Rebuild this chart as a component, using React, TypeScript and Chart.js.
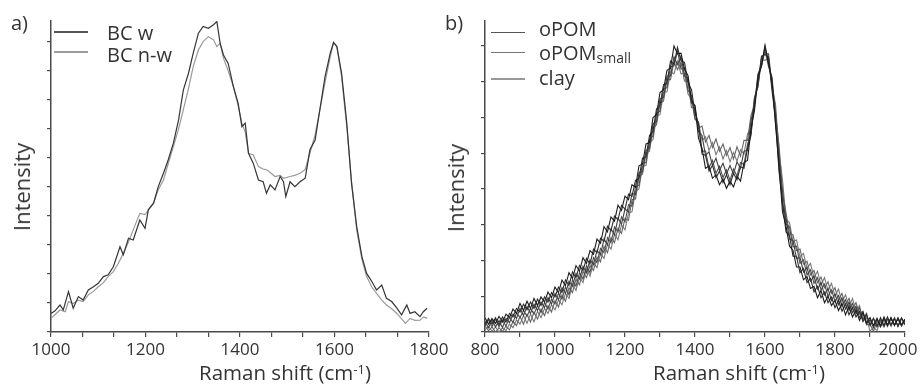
import React, { useEffect, useRef } from "react";
import { Chart, registerables } from "chart.js";

Chart.register(...registerables);

const FONT = "'Open Sans', sans-serif";
const TEXT = "#333333";
const AXIS = "#4a4a4a";

// ---------- Panel a) ----------
const A_X_TICKS = [1000, 1066.67, 1133.33, 1200, 1266.67, 1333.33, 1400, 1466.67, 1533.33, 1600, 1666.67, 1733.33, 1800];
const A_X_LABELS = [1000, 1200, 1400, 1600, 1800];
const A_Y_TICKS = [0, 1, 2, 3, 4, 5, 6, 7, 8, 9, 10];

const BC_W_X = [1000, 1008, 1019, 1026, 1037, 1047, 1058, 1068, 1079, 1090, 1100, 1111, 1121, 1132, 1146, 1153, 1164, 1174, 1188, 1199, 1206, 1217, 1227, 1238, 1248, 1259, 1270, 1280, 1291, 1301, 1312, 1322, 1333, 1344, 1351, 1358, 1365, 1375, 1386, 1396, 1404, 1411, 1418, 1428, 1439, 1449, 1456, 1464, 1474, 1485, 1492, 1497, 1506, 1516, 1527, 1538, 1548, 1559, 1569, 1580, 1591, 1598, 1605, 1615, 1626, 1636, 1647, 1658, 1668, 1679, 1689, 1700, 1710, 1721, 1732, 1742, 1753, 1760, 1770, 1781, 1788, 1796];
const BC_W_Y = [0.64, 0.72, 0.93, 0.76, 1.39, 0.82, 1.22, 1.10, 1.45, 1.56, 1.68, 1.91, 1.97, 2.25, 2.94, 2.66, 3.23, 3.17, 3.86, 3.57, 4.21, 4.44, 5.01, 5.47, 5.93, 6.51, 7.31, 8.34, 8.92, 9.61, 10.30, 10.53, 10.47, 10.59, 10.70, 9.95, 9.55, 9.26, 8.46, 7.89, 7.08, 7.20, 6.16, 5.82, 5.24, 5.18, 4.78, 5.07, 4.90, 5.36, 5.18, 4.67, 5.18, 5.01, 5.18, 5.30, 6.28, 6.62, 7.66, 8.80, 9.61, 9.98, 9.84, 8.92, 7.20, 5.13, 3.63, 2.60, 2.02, 1.74, 1.45, 1.62, 1.16, 1.05, 0.82, 0.59, 0.93, 0.64, 0.70, 0.53, 0.70, 0.82];

const BC_NW_X = [1000, 1010, 1019, 1030, 1037, 1047, 1058, 1068, 1079, 1090, 1100, 1111, 1121, 1132, 1142, 1153, 1164, 1174, 1188, 1199, 1206, 1217, 1227, 1238, 1248, 1259, 1270, 1280, 1291, 1301, 1312, 1322, 1333, 1344, 1351, 1358, 1365, 1375, 1386, 1396, 1404, 1411, 1418, 1428, 1439, 1449, 1456, 1464, 1474, 1485, 1492, 1506, 1516, 1527, 1538, 1548, 1559, 1569, 1580, 1591, 1598, 1605, 1615, 1626, 1636, 1647, 1658, 1668, 1679, 1689, 1700, 1710, 1721, 1732, 1742, 1750, 1760, 1770, 1781, 1789, 1796];
const BC_NW_Y = [0.47, 0.62, 0.76, 0.70, 1.05, 0.98, 1.10, 1.05, 1.28, 1.40, 1.56, 1.70, 1.91, 2.08, 2.35, 2.71, 3.10, 3.52, 4.09, 4.05, 4.21, 4.44, 4.90, 5.24, 5.80, 6.39, 7.00, 7.66, 8.40, 9.15, 9.72, 10.01, 10.18, 10.07, 9.84, 9.95, 9.44, 9.00, 8.46, 7.80, 7.20, 6.90, 6.16, 6.10, 5.70, 5.62, 5.59, 5.50, 5.36, 5.40, 5.30, 5.36, 5.40, 5.47, 5.60, 6.16, 6.80, 7.66, 8.60, 9.49, 9.98, 9.84, 8.80, 7.08, 5.20, 3.52, 2.50, 1.91, 1.55, 1.33, 1.10, 0.93, 0.80, 0.64, 0.45, 0.30, 0.47, 0.40, 0.41, 0.52, 0.47];

// ---------- Panel b) ----------
const B_X_TICKS = [800, 900, 1000, 1100, 1200, 1300, 1400, 1500, 1600, 1700, 1800, 1900, 2000];
const B_X_LABELS = [800, 1000, 1200, 1400, 1600, 1800];
const B_X_LAST_LABEL = "2000";
const B_Y_TICKS = [0, 1, 2, 3, 4, 5, 6, 7, 8];

const RAMAN_X = [
  800, 810, 820, 830, 840, 850, 860, 870, 880, 890,
  900, 910, 920, 930, 940, 950, 960, 970, 980, 990,
  1000, 1010, 1020, 1030, 1040, 1050, 1060, 1070, 1080, 1090,
  1100, 1110, 1120, 1130, 1140, 1150, 1160, 1170, 1180, 1190,
  1200, 1210, 1220, 1230, 1240, 1250, 1260, 1270, 1280, 1290,
  1300, 1310, 1320, 1330, 1340, 1350, 1360, 1370, 1380, 1390,
  1400, 1410, 1420, 1430, 1440, 1450, 1460, 1470, 1480, 1490,
  1500, 1510, 1520, 1530, 1540, 1550, 1560, 1570, 1580, 1590,
  1600, 1610, 1620, 1630, 1640, 1650, 1660, 1670, 1680, 1690,
  1700, 1710, 1720, 1730, 1740, 1750, 1760, 1770, 1780, 1790,
  1800, 1810, 1820, 1830, 1840, 1850, 1860, 1870, 1880, 1890,
  1900, 1910, 1920, 1930, 1940, 1950, 1960, 1970, 1980, 1990,
  2000,
];

const OPOM_1 = [
  0.40, 0.22, 0.38, 0.24, 0.44, 0.28, 0.50, 0.40, 0.64, 0.52,
  0.80, 0.60, 0.86, 0.66, 0.94, 0.74, 0.98, 0.84, 1.12, 0.96,
  1.26, 1.10, 1.45, 1.30, 1.66, 1.50, 1.86, 1.70, 2.08, 1.92,
  2.28, 2.18, 2.60, 2.48, 2.95, 2.80, 3.22, 3.10, 3.55, 3.40,
  3.80, 3.70, 4.12, 4.05, 4.65, 4.70, 5.26, 5.30, 6.00, 6.08,
  6.70, 6.78, 7.32, 7.38, 8.00, 7.78, 7.80, 7.35, 7.18, 6.48,
  6.32, 5.42, 5.14, 4.58, 4.64, 4.30, 4.40, 4.12, 4.28, 4.02,
  4.22, 4.06, 4.36, 4.22, 4.74, 4.80, 5.68, 6.20, 7.12, 7.45,
  8.02, 7.52, 7.02, 5.80, 4.66, 3.36, 2.96, 2.40, 2.28, 1.82,
  1.82, 1.46, 1.55, 1.22, 1.28, 0.96, 1.16, 0.82, 1.00, 0.74,
  0.88, 0.60, 0.80, 0.48, 0.72, 0.42, 0.62, 0.32, 0.54, 0.26,
  0.40, 0.18, 0.38, 0.16, 0.42, 0.20, 0.40, 0.18, 0.40, 0.20,
  0.36,
];
const OPOM_2 = [
  0.20, 0.38, 0.22, 0.40, 0.20, 0.42, 0.28, 0.52, 0.42, 0.66,
  0.56, 0.78, 0.62, 0.84, 0.66, 0.92, 0.74, 0.98, 0.84, 1.10,
  0.98, 1.26, 1.10, 1.46, 1.30, 1.68, 1.52, 1.86, 1.72, 2.06,
  1.90, 2.32, 2.22, 2.62, 2.54, 2.96, 2.84, 3.24, 3.14, 3.54,
  3.44, 3.86, 3.80, 4.24, 4.30, 4.86, 4.90, 5.50, 5.62, 6.24,
  6.34, 6.92, 6.96, 7.58, 7.50, 7.96, 7.58, 7.54, 6.98, 6.78,
  6.12, 5.84, 4.98, 4.94, 4.50, 4.66, 4.32, 4.50, 4.18, 4.40,
  4.12, 4.44, 4.26, 4.62, 4.58, 5.14, 5.50, 6.48, 6.94, 7.72,
  7.76, 7.70, 6.76, 5.98, 4.50, 3.64, 2.80, 2.70, 2.12, 2.12,
  1.66, 1.78, 1.38, 1.50, 1.12, 1.28, 0.96, 1.12, 0.82, 0.98,
  0.68, 0.88, 0.58, 0.78, 0.48, 0.68, 0.42, 0.58, 0.30, 0.48,
  0.20, 0.38, 0.16, 0.40, 0.18, 0.42, 0.20, 0.38, 0.16, 0.40,
  0.22,
];
const OPOM_SMALL_1 = [
  0.30, 0.12, 0.34, 0.14, 0.32, 0.12, 0.38, 0.26, 0.50, 0.38,
  0.66, 0.46, 0.72, 0.52, 0.78, 0.60, 0.84, 0.68, 0.96, 0.78,
  1.08, 0.90, 1.24, 1.08, 1.42, 1.28, 1.64, 1.48, 1.84, 1.66,
  2.02, 1.88, 2.28, 2.16, 2.60, 2.44, 2.88, 2.72, 3.18, 3.02,
  3.44, 3.36, 3.88, 3.84, 4.46, 4.48, 5.08, 5.14, 5.82, 5.88,
  6.52, 6.56, 7.16, 7.16, 7.70, 7.48, 7.72, 7.16, 7.10, 6.40,
  6.34, 5.60, 5.50, 4.94, 5.04, 4.66, 4.86, 4.52, 4.72, 4.42,
  4.66, 4.42, 4.76, 4.58, 5.06, 5.08, 5.92, 6.32, 7.22, 7.46,
  7.98, 7.48, 7.08, 5.88, 4.96, 3.60, 3.18, 2.60, 2.56, 2.06,
  2.08, 1.68, 1.80, 1.42, 1.56, 1.20, 1.38, 1.04, 1.22, 0.88,
  1.06, 0.76, 0.96, 0.64, 0.84, 0.54, 0.72, 0.40, 0.56, 0.22,
  0.34, 0.12, 0.36, 0.18, 0.38, 0.16, 0.40, 0.20, 0.36, 0.18,
  0.34,
];
const OPOM_SMALL_2 = [
  0.16, 0.34, 0.14, 0.36, 0.14, 0.34, 0.16, 0.42, 0.26, 0.54,
  0.40, 0.60, 0.44, 0.66, 0.50, 0.74, 0.54, 0.82, 0.64, 0.92,
  0.78, 1.08, 0.92, 1.26, 1.04, 1.46, 1.28, 1.66, 1.48, 1.86,
  1.66, 2.08, 1.94, 2.34, 2.22, 2.64, 2.50, 2.94, 2.80, 3.22,
  3.08, 3.56, 3.52, 4.06, 4.10, 4.72, 4.74, 5.38, 5.48, 6.12,
  6.18, 6.80, 6.84, 7.42, 7.44, 7.86, 7.36, 7.40, 6.76, 6.62,
  5.98, 5.82, 5.06, 5.06, 4.60, 4.80, 4.44, 4.64, 4.32, 4.54,
  4.24, 4.56, 4.36, 4.74, 4.68, 5.24, 5.56, 6.54, 6.88, 7.68,
  7.78, 7.78, 6.90, 6.20, 4.78, 3.98, 3.02, 2.94, 2.38, 2.40,
  1.92, 2.02, 1.60, 1.74, 1.36, 1.52, 1.18, 1.34, 1.00, 1.18,
  0.86, 1.02, 0.72, 0.90, 0.60, 0.80, 0.50, 0.68, 0.36, 0.52,
  0.18, 0.38, 0.14, 0.34, 0.16, 0.38, 0.18, 0.40, 0.16, 0.38,
  0.20,
];
const CLAY_1 = [
  0.18, 0.04, 0.14, 0.00, 0.12, 0.02, 0.16, 0.06, 0.30, 0.18,
  0.44, 0.22, 0.50, 0.28, 0.56, 0.36, 0.64, 0.46, 0.74, 0.56,
  0.88, 0.70, 1.04, 0.86, 1.24, 1.10, 1.48, 1.32, 1.70, 1.52,
  1.86, 1.72, 2.10, 1.96, 2.40, 2.22, 2.64, 2.50, 2.90, 2.76,
  3.18, 3.12, 3.70, 3.72, 4.34, 4.42, 5.00, 5.06, 5.70, 5.80,
  6.40, 6.46, 7.06, 7.06, 7.56, 7.34, 7.54, 7.02, 7.00, 6.28,
  6.26, 5.70, 5.76, 5.32, 5.50, 5.16, 5.40, 5.06, 5.26, 4.94,
  5.16, 4.84, 5.18, 4.92, 5.36, 5.36, 6.06, 6.36, 7.18, 7.42,
  7.88, 7.42, 7.14, 6.10, 5.24, 3.90, 3.34, 2.74, 2.72, 2.28,
  2.32, 1.90, 1.98, 1.60, 1.72, 1.38, 1.54, 1.24, 1.40, 1.08,
  1.24, 0.90, 1.08, 0.76, 0.94, 0.66, 0.82, 0.50, 0.58, 0.20,
  0.22, 0.02, 0.30, 0.14, 0.34, 0.18, 0.36, 0.20, 0.38, 0.16,
  0.34,
];
const CLAY_2 = [
  0.06, 0.16, 0.02, 0.14, 0.00, 0.12, 0.04, 0.22, 0.12, 0.34,
  0.22, 0.46, 0.24, 0.50, 0.28, 0.58, 0.40, 0.66, 0.52, 0.76,
  0.62, 0.90, 0.76, 1.08, 0.94, 1.34, 1.16, 1.54, 1.38, 1.76,
  1.56, 1.94, 1.80, 2.20, 2.06, 2.46, 2.32, 2.74, 2.58, 3.00,
  2.86, 3.34, 3.36, 3.94, 4.00, 4.64, 4.66, 5.30, 5.38, 6.04,
  6.08, 6.70, 6.72, 7.28, 7.22, 7.58, 7.22, 7.24, 6.66, 6.52,
  5.94, 5.88, 5.36, 5.46, 5.08, 5.30, 4.96, 5.18, 4.84, 5.08,
  4.76, 5.02, 4.78, 5.10, 4.98, 5.54, 5.72, 6.58, 6.86, 7.62,
  7.60, 7.66, 6.86, 6.38, 5.06, 4.26, 3.16, 3.06, 2.52, 2.58,
  2.10, 2.20, 1.78, 1.92, 1.52, 1.70, 1.32, 1.52, 1.16, 1.36,
  1.00, 1.20, 0.84, 1.04, 0.70, 0.94, 0.58, 0.74, 0.30, 0.40,
  0.02, 0.14, 0.04, 0.30, 0.14, 0.34, 0.16, 0.36, 0.18, 0.38,
  0.20,
];

const pts = (xs: number[], ys: number[]) => xs.map((x, i) => ({ x, y: ys[i] }));

function lineDs(label: string, data: any[], color: string, width = 1.1) {
  return {
    label,
    data,
    borderColor: color,
    backgroundColor: color,
    borderWidth: width,
    pointRadius: 0,
    tension: 0,
    fill: false,
  };
}

function axes(opts: {
  xMin: number; xMax: number; xTicks: number[]; xLabels: number[];
  yMax: number; yTicks: number[]; yWidth: number;
}) {
  return {
    x: {
      type: "linear",
      min: opts.xMin,
      max: opts.xMax,
      afterBuildTicks: (s: any) => { s.ticks = opts.xTicks.map((v) => ({ value: v })); },
      afterFit: (s: any) => { s.height = 52; s.paddingLeft = 0; s.paddingRight = 0; },
      ticks: {
        autoSkip: false,
        maxRotation: 0,
        minRotation: 0,
        padding: 3,
        color: TEXT,
        font: { family: FONT, size: 17 },
        callback: (v: any) => (opts.xLabels.includes(v) ? String(v) : ""),
      },
      grid: { drawOnChartArea: false, drawTicks: true, tickLength: 5, color: AXIS, lineWidth: 1.2 },
      border: { display: true, color: AXIS, width: 1.5 },
    },
    y: {
      type: "linear",
      min: 0,
      max: opts.yMax,
      afterBuildTicks: (s: any) => { s.ticks = opts.yTicks.map((v) => ({ value: v })); },
      afterFit: (s: any) => { s.width = opts.yWidth; s.paddingTop = 0; s.paddingBottom = 0; },
      ticks: { autoSkip: false, callback: () => "", font: { family: FONT, size: 10 } },
      grid: { drawOnChartArea: false, drawTicks: true, tickLength: 4, color: AXIS, lineWidth: 1.2 },
      border: { display: true, color: AXIS, width: 1.5 },
    },
  };
}

function Txt(props: { x: number; y: number; size: number; center?: boolean; children: any }) {
  const { x, y, size, center, children } = props;
  return (
    <div
      style={{
        position: "absolute",
        left: x,
        top: y - 0.888 * size,
        fontFamily: FONT,
        fontSize: size,
        lineHeight: `${size}px`,
        color: TEXT,
        whiteSpace: "nowrap",
        transform: center ? "translateX(-50%)" : undefined,
      }}
    >
      {children}
    </div>
  );
}

function VTxt(props: { cx: number; cy: number; size: number; children: any }) {
  const { cx, cy, size, children } = props;
  return (
    <div
      style={{
        position: "absolute",
        left: cx,
        top: cy,
        fontFamily: FONT,
        fontSize: size,
        lineHeight: `${size}px`,
        color: TEXT,
        whiteSpace: "nowrap",
        transform: "translate(-50%, -50%) rotate(-90deg)",
      }}
    >
      {children}
    </div>
  );
}

function LegLine(props: { x1: number; x2: number; y: number; color: string }) {
  const { x1, x2, y, color } = props;
  return (
    <div
      style={{
        position: "absolute",
        left: x1,
        top: y - 0.6,
        width: x2 - x1,
        height: 1.2,
        background: color,
      }}
    />
  );
}

export default function App() {
  const refA = useRef<HTMLCanvasElement | null>(null);
  const refB = useRef<HTMLCanvasElement | null>(null);

  useEffect(() => {
    const common = {
      responsive: false,
      animation: false,
      events: [],
      plugins: { legend: { display: false }, tooltip: { enabled: false }, title: { display: false } },
    };

    const chartA = new Chart(refA.current as HTMLCanvasElement, {
      type: "line",
      data: {
        datasets: [
          lineDs("BC w", pts(BC_W_X, BC_W_Y), "#353535", 1.2),
          lineDs("BC n-w", pts(BC_NW_X, BC_NW_Y), "#9a9a9a", 1.2),
        ],
      },
      options: {
        ...common,
        layout: { padding: { left: 0, right: 31, top: 21, bottom: 0 } },
        scales: axes({ xMin: 1000, xMax: 1800, xTicks: A_X_TICKS, xLabels: A_X_LABELS, yMax: 10.72, yTicks: A_Y_TICKS, yWidth: 51 }),
      } as any,
    });

    const chartB = new Chart(refB.current as HTMLCanvasElement, {
      type: "line",
      data: {
        datasets: [
          lineDs("oPOM", pts(RAMAN_X, OPOM_1), "#1c1c1c", 1.1),
          lineDs("oPOM", pts(RAMAN_X, OPOM_2), "#2e2e2e", 1.1),
          lineDs("oPOMsmall", pts(RAMAN_X, OPOM_SMALL_1), "#404040", 1.1),
          lineDs("oPOMsmall", pts(RAMAN_X, OPOM_SMALL_2), "#4e4e4e", 1.1),
          lineDs("clay", pts(RAMAN_X, CLAY_1), "#666666", 1.1),
          lineDs("clay", pts(RAMAN_X, CLAY_2), "#7a7a7a", 1.1),
        ],
      },
      options: {
        ...common,
        layout: { padding: { left: 0, right: 15, top: 21, bottom: 0 } },
        scales: axes({ xMin: 800, xMax: 2000, xTicks: B_X_TICKS, xLabels: B_X_LABELS, yMax: 8.7, yTicks: B_Y_TICKS, yWidth: 49 }),
      } as any,
    });

    return () => {
      chartA.destroy();
      chartB.destroy();
    };
  }, []);

  return (
    <div
      style={{
        position: "fixed",
        left: 0,
        top: 0,
        width: 920,
        height: 384,
        background: "#ffffff",
        overflow: "hidden",
      }}
    >
      <canvas ref={refA} width={460} height={384} style={{ position: "absolute", left: 0, top: 0, width: 460, height: 384 }} />
      <canvas ref={refB} width={484} height={384} style={{ position: "absolute", left: 436, top: 0, width: 484, height: 384 }} />

      {/* panel a texts */}
      <Txt x={11} y={30.5} size={20}>a)</Txt>
      <LegLine x1={54} x2={88} y={32} color="#555555" />
      <LegLine x1={54} x2={88} y={52} color="#9c9c9c" />
      <Txt x={107} y={40.7} size={20}>BC w</Txt>
      <Txt x={107} y={63} size={20}>BC n-w</Txt>
      <VTxt cx={20.8} cy={186.5} size={22}>Intensity</VTxt>
      <Txt x={285} y={380.5} size={20.5} center>
        Raman shift (cm<span style={{ fontSize: 13, position: "relative", top: -6 }}>-1</span>)
      </Txt>

      {/* panel b texts */}
      <Txt x={445} y={30.7} size={20}>b)</Txt>
      <LegLine x1={491} x2={525} y={32.3} color="#555555" />
      <LegLine x1={491} x2={525} y={52.7} color="#777777" />
      <LegLine x1={491} x2={525} y={79} color="#999999" />
      <Txt x={539} y={36.7} size={20}>oPOM</Txt>
      <Txt x={539} y={60.7} size={20}>
        oPOM<span style={{ fontSize: 14, position: "relative", top: 2.8 }}>small</span>
      </Txt>
      <Txt x={539} y={86} size={20}>clay</Txt>
      <VTxt cx={454.8} cy={187.5} size={22}>Intensity</VTxt>
      <Txt x={898} y={355.5} size={17} center>{B_X_LAST_LABEL}</Txt>
      <Txt x={739} y={380.5} size={20.5} center>
        Raman shift (cm<span style={{ fontSize: 13, position: "relative", top: -6 }}>-1</span>)
      </Txt>
    </div>
  );
}
